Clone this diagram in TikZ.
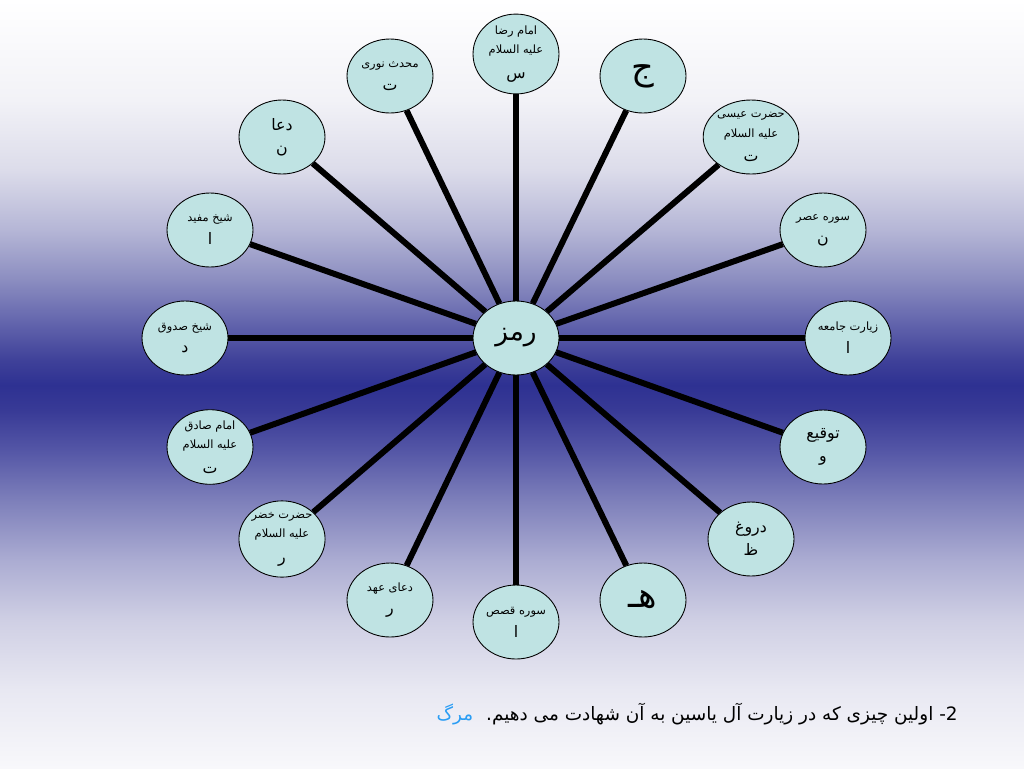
\documentclass[tikz,border=0pt]{standalone}
\usepackage{fontspec}
\usepackage{xcolor}
\usetikzlibrary{shapes.geometric}
\TeXXeTstate=1
\newfontfamily\farsi[Script=Arabic]{DejaVu Sans}
\definecolor{WheelFill}{HTML}{BFE3E3}
\definecolor{AnswerBlue}{HTML}{2A9DF4}
\definecolor{BgA}{HTML}{FFFFFF}
\definecolor{BgB}{HTML}{F2F2F7}
\definecolor{BgC}{HTML}{DCDCEA}
\definecolor{BgD}{HTML}{B5B6D6}
\definecolor{BgE}{HTML}{8B8DC0}
\definecolor{BgF}{HTML}{6567AE}
\definecolor{BgG}{HTML}{3F4199}
\definecolor{BgH}{HTML}{2E3192}
\definecolor{BgI}{HTML}{383A96}
\definecolor{BgJ}{HTML}{5456A6}
\definecolor{BgK}{HTML}{7D7FBA}
\definecolor{BgL}{HTML}{ABACD2}
\definecolor{BgM}{HTML}{CFCFE4}
\definecolor{BgN}{HTML}{E8E8F2}
\definecolor{BgO}{HTML}{F8F8FB}
\pgfdeclareverticalshading{slidebg}{100bp}{color(0bp)=(BgO); color(25bp)=(BgO);
  color(30.08bp)=(BgN); color(34.64bp)=(BgM); color(38.54bp)=(BgL);
  color(42.45bp)=(BgK); color(45.70bp)=(BgJ); color(48.31bp)=(BgI);
  color(49.93bp)=(BgH); color(51.56bp)=(BgG); color(54.17bp)=(BgF);
  color(56.77bp)=(BgE); color(60.03bp)=(BgD); color(63.93bp)=(BgC);
  color(68.49bp)=(BgB); color(75bp)=(BgA); color(100bp)=(BgA)}
\newcommand{\SmallLine}[1]{{\fontsize{6.5}{11}\selectfont\farsi\beginR #1\endR}}
\newcommand{\MidLine}[1]{{\fontsize{9}{11}\selectfont\farsi\beginR #1\endR}}
\newcommand{\BigLetter}[1]{{\fontsize{20}{22}\selectfont\farsi\beginR #1\endR}}
\tikzset{
  hub/.style={ellipse,draw=black,line width=0.5pt,fill=WheelFill,
    minimum width=1.72cm,minimum height=1.48cm,inner sep=0pt,align=center,
    font=\fontsize{6.5}{11}\selectfont},
  spoke/.style={draw=black,line width=3.4pt}
}
\begin{document}
\begin{tikzpicture}[x=0.02cm,y=-0.02cm]
  \path[use as bounding box] (0,0) rectangle (1024,768);
  \shade[shading=slidebg] (0,0) rectangle (1024,768);

  \node[hub] (rmz) at (516,338)
    {{\fontsize{15}{17}\selectfont\farsi\beginR رمز\endR}};

  \newcommand{\rimnode}[3]{%
    \node[hub] (#1) at (#2) {#3};%
    \draw[spoke] (rmz) -- (#1);%
  }

  \rimnode{reza}{516,54}{\SmallLine{امام رضا}\\\SmallLine{علیه السلام}\\[3pt]\MidLine{س}}
  \rimnode{jim}{643,76}{\BigLetter{ج}}
  \rimnode{isa}{751,137}{\SmallLine{حضرت عیسی}\\\SmallLine{علیه السلام}\\[3pt]\MidLine{ت}}
  \rimnode{asr}{823,230}{\SmallLine{سوره عصر}\\[2pt]\MidLine{ن}}
  \rimnode{jamea}{848,338}{\SmallLine{زیارت جامعه}\\[2pt]\MidLine{ا}}
  \rimnode{tawqi}{823,447}{\MidLine{توقیع}\\[2pt]\MidLine{و}}
  \rimnode{dorugh}{751,539}{\MidLine{دروغ}\\[2pt]\MidLine{ظ}}
  \rimnode{he}{643,600}{\BigLetter{هـ}}
  \rimnode{qasas}{516,622}{\SmallLine{سوره قصص}\\[2pt]\MidLine{ا}}
  \rimnode{ahd}{390,600}{\SmallLine{دعای عهد}\\[2pt]\MidLine{ر}}
  \rimnode{khezr}{282,539}{\SmallLine{حضرت خضر}\\\SmallLine{علیه السلام}\\[3pt]\MidLine{ر}}
  \rimnode{sadeq}{210,447}{\SmallLine{امام صادق}\\\SmallLine{علیه السلام}\\[3pt]\MidLine{ت}}
  \rimnode{saduq}{185,338}{\SmallLine{شیخ صدوق}\\[2pt]\MidLine{د}}
  \rimnode{mofid}{210,230}{\SmallLine{شیخ مفید}\\[2pt]\MidLine{ا}}
  \rimnode{doa}{282,137}{\MidLine{دعا}\\[2pt]\MidLine{ن}}
  \rimnode{nuri}{390,76}{\SmallLine{محدث نوری}\\[2pt]\MidLine{ت}}

  % question and its answer
  \node[anchor=base east,inner sep=0pt,font=\fontsize{10.5}{12}\selectfont\farsi]
    (question) at (958,720)
    {\beginR 2- اولین چیزی که در زیارت آل یاسین به آن شهادت می دهیم.\endR};
  \node[anchor=base east,inner sep=0pt,text=AnswerBlue,font=\fontsize{10.5}{12}\selectfont\farsi]
    (answer) at ([xshift=-7pt]question.base west) {\beginR مرگ\endR};
\end{tikzpicture}
\end{document}
